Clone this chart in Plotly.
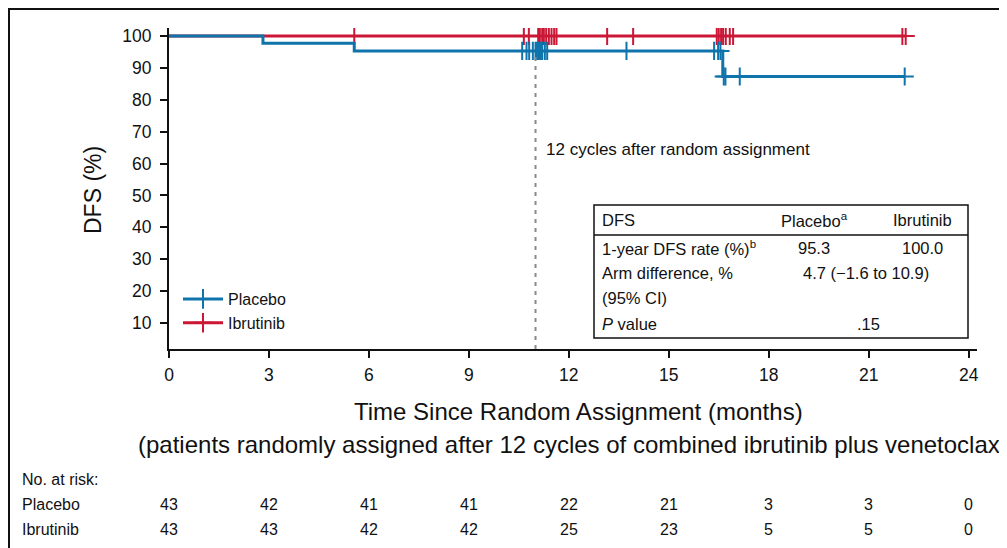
import plotly.graph_objects as go

# ---------------- data ----------------
placebo_step_t = [0, 2.82, 5.56, 16.62, 22.08]
placebo_step_s = [100, 97.7, 95.3, 87.3, 87.3]
placebo_cens_t = [10.6, 10.73, 10.81, 10.92, 11.0, 11.04, 11.08, 11.12, 11.16, 11.2,
                  11.28, 11.35, 13.73, 16.36, 16.48, 16.55]
placebo_cens_t2 = [16.65, 16.7, 17.13, 22.08]

ibr_step_t = [0, 22.11]
ibr_step_s = [100, 100]
ibr_cens_t = [5.56, 10.65, 10.8, 11.08, 11.13, 11.2, 11.25, 11.32, 11.4, 11.48, 11.56,
              11.63, 13.15, 13.93, 16.44, 16.5, 16.57, 16.63, 16.71, 16.83, 16.93,
              22.01, 22.11]

x_ticks = [0, 3, 6, 9, 12, 15, 18, 21, 24]
y_ticks = [10, 20, 30, 40, 50, 60, 70, 80, 90, 100]
risk_placebo = [43, 42, 41, 41, 22, 21, 3, 3, 0]
risk_ibr = [43, 43, 42, 42, 25, 23, 5, 5, 0]
landmark_month = 11.0

table_rows = [
    ["DFS", "Placebo<sup>a</sup>", "Ibrutinib"],
    ["1-year DFS rate (%)<sup>b</sup>", "95.3", "100.0"],
    ["Arm difference, %", "4.7 (\u22121.6 to 10.9)", ""],
    ["(95% CI)", "", ""],
    ["<i>P</i> value", ".15", ""],
]

# ---------------- style ----------------
BLUE = "#0f74ab"
RED = "#cc1636"
FONT = "Liberation Sans, Arial, Helvetica, sans-serif"

W, H = 1007, 548
OFF = 8  # page offset of the figure (body margin)
# plot-area edges in page pixels
PL, PR, PT, PB = 169, 977, 28, 349
XR = [0, 24.25]
YR = [1.85, 102.5]


def px(x):
    return (x - PL) / (PR - PL)


def py(y):
    return (PB - y) / (PB - PT)


fig = go.Figure()

# Ibrutinib (drawn first, below placebo)
fig.add_trace(go.Scatter(x=ibr_step_t, y=ibr_step_s, mode="lines", line=dict(color=RED, width=3, shape="hv"),
                         showlegend=False, hoverinfo="skip"))
fig.add_trace(go.Scatter(x=ibr_cens_t, y=[ibr_step_s[0]] * len(ibr_cens_t), mode="markers",
                         marker=dict(symbol="cross-thin", size=13, line=dict(color=RED, width=2)),
                         showlegend=False))
# Placebo
fig.add_trace(go.Scatter(x=placebo_step_t, y=placebo_step_s, mode="lines", line=dict(color=BLUE, width=3, shape="hv"),
                         showlegend=False, hoverinfo="skip"))
fig.add_trace(go.Scatter(x=placebo_cens_t, y=[placebo_step_s[2]] * len(placebo_cens_t), mode="markers",
                         marker=dict(symbol="cross-thin", size=13, line=dict(color=BLUE, width=2)),
                         showlegend=False))
fig.add_trace(go.Scatter(x=placebo_cens_t2, y=[placebo_step_s[3]] * len(placebo_cens_t2), mode="markers",
                         marker=dict(symbol="cross-thin", size=13, line=dict(color=BLUE, width=2)),
                         showlegend=False))

# legend entries
fig.add_trace(go.Scatter(x=[None], y=[None], mode="lines+markers", name="Placebo",
                         line=dict(color=BLUE, width=3),
                         marker=dict(symbol="cross-thin", size=14, line=dict(color=BLUE, width=2))))
fig.add_trace(go.Scatter(x=[None], y=[None], mode="lines+markers", name="Ibrutinib",
                         line=dict(color=RED, width=3),
                         marker=dict(symbol="cross-thin", size=14, line=dict(color=RED, width=2))))

shapes = []
# landmark dashed line
shapes.append(dict(type="line", xref="x", yref="y", x0=landmark_month, x1=landmark_month,
                   y0=YR[0], y1=94.2, line=dict(color="#8a8a8a", width=2, dash="4px,5px")))
# table box
shapes.append(dict(type="rect", xref="paper", yref="paper", x0=px(594), x1=px(968), y0=py(338), y1=py(205),
                   line=dict(color="#111", width=1.5)))
shapes.append(dict(type="line", xref="paper", yref="paper", x0=px(594), x1=px(968), y0=py(235), y1=py(235),
                   line=dict(color="#111", width=1.5)))
# outer frame
shapes.append(dict(type="rect", xref="paper", yref="paper", x0=px(9), x1=px(1030), y0=py(580), y1=py(9),
                   line=dict(color="#111", width=2)))

ann = []
ann.append(dict(text="12 cycles after random assignment", xref="paper", yref="paper", x=px(544), y=py(149),
                xanchor="left", yanchor="middle", showarrow=False, font=dict(family=FONT, size=17, color="#111")))

# table text
row_y = [220, 248, 273, 298, 324]
col_x = [(600, "left"), (814, "center"), (922, "center")]
for r, row in enumerate(table_rows):
    for c, txt in enumerate(row):
        if not txt:
            continue
        xx, anc = col_x[c]
        if r == 2 and c == 1:
            xx = 866
        if r == 4 and c == 1:
            xx = 868
        ann.append(dict(text=txt, xref="paper", yref="paper", x=px(xx), y=py(row_y[r]), xanchor=anc,
                        yanchor="middle", showarrow=False, font=dict(family=FONT, size=16.5, color="#111")))

# axis titles
ann.append(dict(text="DFS (%)", xref="paper", yref="paper", x=px(93), y=py(190), textangle=-90,
                xanchor="center", yanchor="middle", showarrow=False, font=dict(family=FONT, size=23, color="#111")))
ann.append(dict(text="Time Since Random Assignment (months)", xref="paper", yref="paper", x=px(578), y=py(412),
                xanchor="center", yanchor="middle", showarrow=False, font=dict(family=FONT, size=24, color="#111")))
ann.append(dict(text="(patients randomly assigned after 12 cycles of combined ibrutinib plus venetoclax)",
                xref="paper", yref="paper", x=px(573), y=py(444),
                xanchor="center", yanchor="middle", showarrow=False, font=dict(family=FONT, size=24, color="#111")))

# number at risk
ann.append(dict(text="No. at risk:", xref="paper", yref="paper", x=px(20), y=py(479), xanchor="left",
                yanchor="middle", showarrow=False, font=dict(family=FONT, size=16, color="#111")))
for label, vals, yy in [("Placebo", risk_placebo, 504), ("Ibrutinib", risk_ibr, 529)]:
    ann.append(dict(text=label, xref="paper", yref="paper", x=px(20), y=py(yy), xanchor="left",
                    yanchor="middle", showarrow=False, font=dict(family=FONT, size=16, color="#111")))
    for t, v in zip(x_ticks, vals):
        ann.append(dict(text=str(v), xref="x", yref="paper", x=t, y=py(yy), xanchor="center",
                        yanchor="middle", showarrow=False, font=dict(family=FONT, size=16, color="#111")))

axis_common = dict(showgrid=False, zeroline=False, showline=True, linecolor="#111", linewidth=2,
                   ticks="outside", ticklen=7, tickwidth=1.5, tickcolor="#111",
                   tickfont=dict(family=FONT, size=17.5, color="#111"))

fig.update_layout(
    width=W, height=H,
    margin=dict(l=PL - OFF, r=W - (PR - OFF), t=PT - OFF, b=H - (PB - OFF), autoexpand=False),
    paper_bgcolor="white", plot_bgcolor="white",
    xaxis=dict(range=XR, tickvals=x_ticks, ticklabelstandoff=2, **axis_common),
    yaxis=dict(range=YR, tickvals=y_ticks, ticklabelstandoff=5, **axis_common),
    legend=dict(x=px(178), y=py(282), xanchor="left", yanchor="top", bgcolor="rgba(0,0,0,0)",
                font=dict(family=FONT, size=16, color="#111"), itemwidth=40, tracegroupgap=0),
    shapes=shapes, annotations=ann, showlegend=True,
)

fig.write_html("out.html")
